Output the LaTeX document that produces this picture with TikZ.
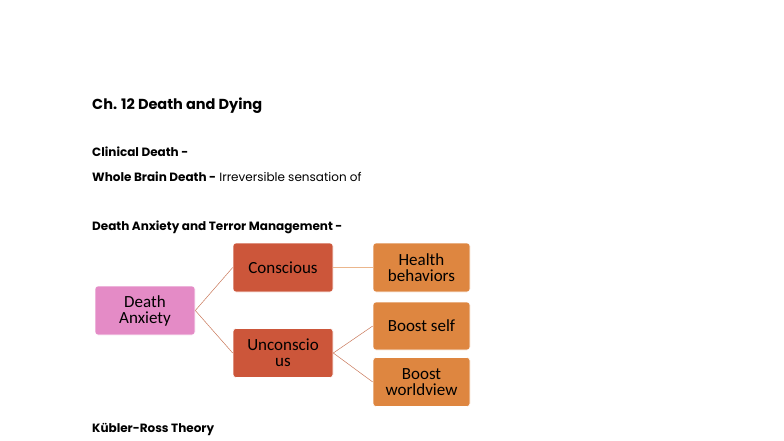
\documentclass[tikz,border=0pt]{standalone}
\usepackage{fontspec}
\setmainfont{Poppins}
\newfontfamily\boxfont{Carlito}
\definecolor{pinkbox}{HTML}{E48BC6}
\definecolor{redbox}{HTML}{CC563A}
\definecolor{orangebox}{HTML}{DE8640}
\definecolor{linkcol}{HTML}{C9785A}
\begin{document}
\begin{tikzpicture}[x=1pt,y=-1pt,
  box/.style={draw=white,line width=0.6pt,rounded corners=3pt,minimum width=100pt,minimum height=49pt,
    align=center,font=\boxfont\fontsize{17}{16}\selectfont,inner sep=1pt},
  link/.style={draw=linkcol,line width=0.5pt},
  txt/.style={anchor=base west,inner sep=0pt,font=\fontsize{12}{14}\selectfont}]
\useasboundingbox (0,0) rectangle (784,441);
\node[txt,font=\fontsize{14.5}{16}\selectfont\bfseries] (title) at (92,110) {Ch. 12 Death and Dying};
\node[txt] (clin) at (92,157) {\textbf{Clinical Death -}};
\node[txt] (whole) at (92,181) {\textbf{Whole Brain Death -} Irreversible sensation of};
\node[txt] (terror) at (92,230) {\textbf{Death Anxiety and Terror Management -}};
\node[txt] (kubler) at (92,432) {\textbf{Kübler-Ross Theory}};

\node[box,fill=pinkbox] (1) at (145,310.5) {Death\\Anxiety};
\node[box,fill=redbox] (2) at (283,267.5) {Conscious};
\node[box,fill=redbox] (3) at (283,353) {Unconscio\\us};
\node[box,fill=orangebox,minimum width=97pt] (4) at (421.5,267.5) {Health\\behaviors};
\node[box,fill=orangebox,minimum width=97pt,minimum height=48pt] (5) at (421.5,326) {Boost self};
\node[box,fill=orangebox,minimum width=97pt] (6) at (421.5,382) {Boost\\worldview};
\path[link] (1.east) -- (2.west);
\path[link] (1.east) -- (3.west);
\path[link,draw=orangebox!60] (2.east) -- (4.west);
\path[link] (3.east) -- (5.west);
\path[link] (3.east) -- (6.west);
\end{tikzpicture}
\end{document}
